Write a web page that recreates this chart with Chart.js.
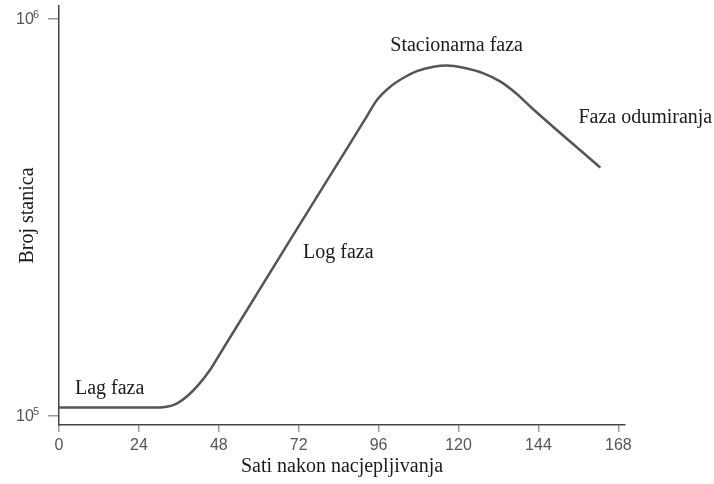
<!DOCTYPE html>
<html>
<head>
<meta charset="utf-8">
<script src="https://cdn.jsdelivr.net/npm/chart.js@4.4.1/dist/chart.umd.min.js"></script>
<style>
  html, body { margin: 0; padding: 0; background: #fff; }
  #wrap { position: relative; width: 714px; height: 484px; }
</style>
</head>
<body>
<div id="wrap"><canvas id="growth"></canvas></div>
<script>
const hours = [0, 30, 35, 39, 42, 45.4, 48.4, 69.4, 87.5, 92, 95.5, 99.5, 103.5, 107.5, 112.5, 116.5, 121.5, 127.5, 132.6, 137.6, 141.6, 162.6];
const cellCounts = [105000, 105000, 107000, 113000, 120000, 130600, 143500, 277000, 486700, 560300, 625000, 675000, 711000, 739000, 758000, 763000, 753000, 729000, 695000, 646000, 601000, 422000];
const xTicks = [0, 24, 48, 72, 96, 120, 144, 168];
const yTicks = [1e5, 1e6];
const yTickBase = '10';
const yTickExp = ['5', '6'];
const phaseLabels = ['Lag faza', 'Log faza', 'Stacionarna faza', 'Faza odumiranja'];
const phaseHours = [4.8, 73.3, 99.5, 156];
const phaseCounts = [117000, 257000, 855000, 563000];

const SERIF = '"Liberation Serif", "Times New Roman", serif';
const SANS = '"Liberation Sans", Arial, sans-serif';

// phase names next to the curve + y tick labels as 10 with a raised exponent
const annotate = {
  id: 'annotate',
  afterDatasetsDraw(chart) {
    const { ctx, scales: { x, y } } = chart;
    ctx.save();
    ctx.font = '20px ' + SERIF;
    ctx.fillStyle = '#1a1a1a';
    ctx.textAlign = 'left';
    ctx.textBaseline = 'middle';
    phaseLabels.forEach((t, i) => {
      ctx.fillText(t, x.getPixelForValue(phaseHours[i]), y.getPixelForValue(phaseCounts[i]));
    });

    ctx.fillStyle = '#555';
    ctx.textAlign = 'right';
    y.ticks.forEach((t, i) => {
      const py = y.getPixelForValue(t.value);
      const right = y.right - 20;
      ctx.font = '11px ' + SANS;
      ctx.textBaseline = 'alphabetic';
      ctx.fillText(yTickExp[i], right, py - 1);
      const expW = ctx.measureText(yTickExp[i]).width;
      ctx.font = '16px ' + SANS;
      ctx.textBaseline = 'middle';
      ctx.fillText(yTickBase, right - expW + 1, py + 1);
    });
    ctx.restore();
  }
};

const points = hours.map((h, i) => ({ x: h, y: cellCounts[i] }));

new Chart(document.getElementById('growth').getContext('2d'), {
  type: 'line',
  data: {
    datasets: [{
      data: points,
      borderColor: '#555',
      borderWidth: 2.5,
      pointRadius: 0,
      fill: false,
      cubicInterpolationMode: 'monotone',
    }],
  },
  options: {
    responsive: true,
    maintainAspectRatio: false,
    animation: false,
    layout: { padding: { top: 6, right: 89, left: 0, bottom: 0 } },
    scales: {
      x: {
        type: 'linear',
        min: 0,
        max: 170,
        afterBuildTicks: s => { s.ticks = xTicks.map(v => ({ value: v })); },
        afterFit: s => { s.height = 59; },
        border: { color: '#444', width: 1.5 },
        grid: { drawOnChartArea: false, color: '#999', tickLength: 7, lineWidth: 1.5 },
        ticks: { color: '#555', padding: 4, maxRotation: 0, font: { family: SANS, size: 16 } },
        title: {
          display: true,
          text: 'Sati nakon nacjepljivanja',
          color: '#1a1a1a',
          font: { family: SERIF, size: 20 },
          padding: { top: 0, bottom: 5 },
        },
      },
      y: {
        type: 'logarithmic',
        min: 94800,
        max: 1078000,
        afterBuildTicks: s => { s.ticks = yTicks.map(v => ({ value: v })); },
        afterFit: s => { s.width = 59; s.paddingTop = 0; s.paddingBottom = 0; },
        border: { color: '#444', width: 1.5 },
        grid: { drawOnChartArea: false, color: '#999', tickLength: 11, lineWidth: 1.5 },
        ticks: { display: false },
        title: {
          display: true,
          text: 'Broj stanica',
          color: '#1a1a1a',
          font: { family: SERIF, size: 20 },
          padding: { top: 16, bottom: 0 },
        },
      },
    },
    plugins: {
      legend: { display: false },
      tooltip: { enabled: false },
    },
  },
  plugins: [annotate],
});
</script>
</body>
</html>
